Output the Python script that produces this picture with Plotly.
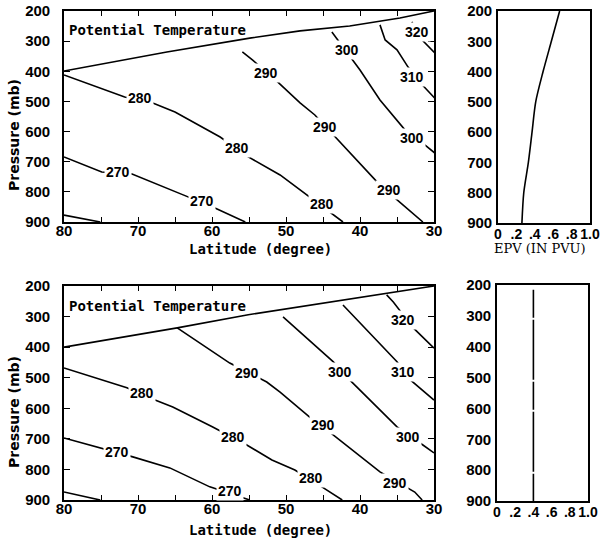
import plotly.graph_objects as go

W, H = 605, 539

# ---------------- data ----------------
pressure_ticks = [200, 300, 400, 500, 600, 700, 800, 900]
lat_ticks = [80, 70, 60, 50, 40, 30]
epv_ticks = [0, 0.2, 0.4, 0.6, 0.8, 1.0]
epv_ticktext = ["0", ".2", ".4", ".6", ".8", "1.0"]

# top panel isolines (latitude, pressure)
top_trop_lat = [80, 72.8, 66.1, 54.9, 48.1, 41.4, 34.6, 30.0]
top_trop_p = [399, 366, 336, 290, 266, 250, 223, 200]
top_270_lat = [80, 74.9, 70.8, 65.3, 63.9, 59.9, 55.5]
top_270_p = [684, 734, 741, 794, 810, 850, 900]
top_280_lat = [80, 71.8, 68.0, 65.0, 58.9, 55.1, 50.8, 46.8, 42.3]
top_280_p = [412, 485, 505, 535, 618, 684, 744, 817, 900]
top_corner_lat = [80, 75.1]
top_corner_p = [877, 900]
top_290_lat = [55.9, 54.5, 51.1, 48.1, 46.1, 43.6, 37.7, 35.3, 31.5]
top_290_p = [336, 363, 436, 505, 545, 611, 767, 820, 900]
top_300_lat = [43.8, 43.2, 41.1, 40.0, 37.3, 33.9, 31.2, 29.9]
top_300_p = [270, 290, 356, 396, 495, 595, 645, 671]
top_310_lat = [37.3, 36.6, 35.0, 33.5, 31.6, 29.9]
top_310_p = [246, 296, 329, 386, 445, 489]
top_320_lat = [33.0, 31.6, 29.9]
top_320_p = [236, 296, 339]

top_label_text = ["280", "280", "280", "270", "270", "290", "290", "290", "300", "300", "310", "320"]
top_label_lat = [69.7, 56.6, 45.1, 72.7, 61.4, 52.7, 44.7, 36.1, 41.8, 33.0, 33.0, 32.3]
top_label_p = [489, 654, 840, 734, 830, 406, 585, 794, 329, 621, 419, 270]

# bottom panel isolines
bot_trop_lat = [80, 64.7, 55.1, 50.8, 37.3, 30.0]
bot_trop_p = [400, 337, 294, 278, 229, 200]
bot_270_lat = [80, 74.9, 70.7, 65.7, 60.3, 54.9]
bot_270_p = [697, 730, 759, 795, 857, 900]
bot_280_lat = [80, 71.5, 67.7, 65.3, 59.9, 55.3, 51.9, 48.8, 45.1, 42.4]
bot_280_p = [468, 533, 573, 596, 661, 720, 769, 802, 858, 900]
bot_corner_lat = [80, 75.1]
bot_corner_p = [874, 900]
bot_290_lat = [64.7, 57.6, 52.6, 50.8, 46.8, 44.1, 37.3, 32.6, 31.6]
bot_290_p = [337, 452, 514, 547, 629, 678, 808, 874, 900]
bot_300_lat = [50.4, 43.6, 41.4, 35.0, 31.5, 30.0]
bot_300_p = [301, 448, 507, 661, 720, 746]
bot_310_lat = [42.3, 35.0, 33.2, 30.0]
bot_310_p = [262, 448, 507, 573]
bot_320_lat = [36.4, 35.5, 32.8, 30.0]
bot_320_p = [229, 252, 337, 403]

bot_label_text = ["290", "290", "290", "280", "280", "280", "270", "270", "300", "300", "310", "320"]
bot_label_lat = [55.3, 45.0, 35.3, 69.5, 57.2, 46.6, 72.8, 57.6, 42.7, 33.5, 34.2, 34.2]
bot_label_p = [485, 655, 844, 550, 694, 828, 743, 870, 481, 694, 481, 311]

# EPV profiles
epv_top_p = [200, 300, 400, 500, 600, 700, 800, 900]
epv_top = [0.67, 0.58, 0.49, 0.41, 0.37, 0.33, 0.28, 0.26]
epv_bot_p = [215, 900]
epv_bot = [0.40, 0.40]

# ---------------- figure ----------------
def px(x):
    return x / W

def py(y):
    return 1 - y / H

fig = go.Figure()
LW = 1.6

def add_line(lat, p, xa, ya, dash="solid", shape="linear"):
    fig.add_trace(go.Scatter(x=lat, y=p, mode="lines", xaxis=xa, yaxis=ya,
                             line=dict(color="black", width=LW, dash=dash, shape=shape, smoothing=0.8),
                             hoverinfo="skip", showlegend=False))

for lat, p in [(top_trop_lat, top_trop_p), (top_270_lat, top_270_p), (top_280_lat, top_280_p),
               (top_corner_lat, top_corner_p), (top_290_lat, top_290_p), (top_300_lat, top_300_p),
               (top_310_lat, top_310_p), (top_320_lat, top_320_p)]:
    add_line(lat, p, "x", "y")

for lat, p in [(bot_trop_lat, bot_trop_p), (bot_270_lat, bot_270_p), (bot_280_lat, bot_280_p),
               (bot_corner_lat, bot_corner_p), (bot_290_lat, bot_290_p), (bot_300_lat, bot_300_p),
               (bot_310_lat, bot_310_p), (bot_320_lat, bot_320_p)]:
    add_line(lat, p, "x3", "y3")

add_line(epv_top, epv_top_p, "x2", "y2", shape="spline")
add_line(epv_bot, epv_bot_p, "x4", "y4", dash="28px,2px,60px,2px")

TICKFONT = dict(family="Liberation Sans", size=15, color="black", weight="bold")
EPVFONT = dict(family="Liberation Sans", size=14, color="black", weight="bold")
LABELFONT = dict(family="Liberation Sans", size=14, color="black", weight="bold")
MONO = dict(family="DejaVu Sans Mono", size=14, color="black", weight="bold")

annotations = []
for t, la, pp in zip(top_label_text, top_label_lat, top_label_p):
    annotations.append(dict(x=la, y=pp, xref="x", yref="y", text=t, showarrow=False,
                            font=LABELFONT, bgcolor="white", borderpad=1))
for t, la, pp in zip(bot_label_text, bot_label_lat, bot_label_p):
    annotations.append(dict(x=la, y=pp, xref="x3", yref="y3", text=t, showarrow=False,
                            font=LABELFONT, bgcolor="white", borderpad=1))

annotations += [
    dict(x=px(67), y=py(30), xref="paper", yref="paper", text="Potential Temperature",
         showarrow=False, xanchor="left", yanchor="middle", font=MONO),
    dict(x=px(67), y=py(306), xref="paper", yref="paper", text="Potential Temperature",
         showarrow=False, xanchor="left", yanchor="middle", font=MONO),
    dict(x=px(260), y=py(249), xref="paper", yref="paper", text="Latitude (degree)",
         showarrow=False, xanchor="center", yanchor="middle", font=MONO),
    dict(x=px(260), y=py(530), xref="paper", yref="paper", text="Latitude (degree)",
         showarrow=False, xanchor="center", yanchor="middle", font=MONO),
    dict(x=px(540), y=py(249), xref="paper", yref="paper", text="EPV (IN PVU)",
         showarrow=False, xanchor="center", yanchor="middle",
         font=dict(family="DejaVu Serif", size=13, color="black")),
    dict(x=px(14), y=py(135), xref="paper", yref="paper", text="Pressure (mb)",
         showarrow=False, textangle=-90, xanchor="center", yanchor="middle",
         font=dict(family="DejaVu Sans", size=14, color="black", weight="bold")),
    dict(x=px(14), y=py(412), xref="paper", yref="paper", text="Pressure (mb)",
         showarrow=False, textangle=-90, xanchor="center", yanchor="middle",
         font=dict(family="DejaVu Sans", size=14, color="black", weight="bold")),
]

def lat_axis(dom, anchor):
    return dict(domain=dom, anchor=anchor, range=[80, 30], tickvals=lat_ticks,
                ticks="inside", ticklen=5, tickwidth=1.3, tickcolor="black",
                minor=dict(dtick=5, tick0=0, ticks="inside", ticklen=5, tickwidth=1.3, tickcolor="black"),
                showline=True, linecolor="black", linewidth=1.6, mirror="ticks",
                showgrid=False, zeroline=False, tickfont=TICKFONT, tickangle=0,
                automargin=False, ticklabelstandoff=-6)

def p_axis(dom, anchor, ticks=True):
    d = dict(domain=dom, anchor=anchor, range=[900, 200], tickvals=pressure_ticks,
             showline=True, linecolor="black", linewidth=1.6,
             showgrid=False, zeroline=False, tickfont=TICKFONT, automargin=False)
    if ticks:
        d.update(ticks="inside", ticklen=6, tickwidth=1.3, tickcolor="black", mirror="ticks",
                 ticklabelstandoff=9)
    else:
        d.update(ticks="", mirror=True, ticklabelstandoff=1)
    return d

def epv_axis(dom, anchor):
    return dict(domain=dom, anchor=anchor, range=[0, 1], tickvals=epv_ticks, ticktext=epv_ticktext,
                ticks="", showline=True, linecolor="black", linewidth=1.6, mirror=True,
                showgrid=False, zeroline=False, tickfont=EPVFONT, tickangle=0,
                automargin=False, ticklabelstandoff=-3)

fig.update_layout(
    template="none",
    width=W, height=H, margin=dict(l=0, r=0, t=0, b=0, autoexpand=False),
    paper_bgcolor="white", plot_bgcolor="white", showlegend=False,
    xaxis=lat_axis([px(64), px(434)], "y"),
    yaxis=p_axis([py(222), py(11)], "x"),
    xaxis2=epv_axis([px(498), px(590)], "y2"),
    yaxis2=p_axis([py(223), py(11)], "x2", ticks=False),
    xaxis3=lat_axis([px(64), px(434)], "y3"),
    yaxis3=p_axis([py(500), py(286)], "x3"),
    xaxis4=epv_axis([px(497), px(588)], "y4"),
    yaxis4=p_axis([py(501), py(285)], "x4", ticks=False),
    annotations=annotations,
)

fig.write_html("out.html")
